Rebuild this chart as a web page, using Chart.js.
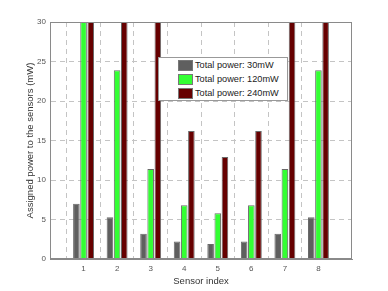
<!DOCTYPE html>
<html lang="en">
<head>
<meta charset="UTF-8">
<title>Assigned power per sensor</title>
<script src="https://cdn.jsdelivr.net/npm/chart.js"></script>
<style>
  html, body { margin: 0; padding: 0; background: #fff; }
  #wrap { position: relative; width: 388px; height: 291px; }
  #legend {
    position: absolute; left: 158px; top: 57px; width: 130px; height: 44px;
    background: #fff; border: 1px solid #999; box-sizing: border-box;
    font-family: "Liberation Sans", Arial, sans-serif; font-size: 9.2px; color: #222;
    padding: 0 0 0 19px;
  }
  #legend .row { display: flex; align-items: center; height: 14px; }
  #legend .sw { width: 15px; height: 11px; border: 1px solid #777; box-sizing: border-box; margin-right: 2px; }
</style>
</head>
<body>
<div id="wrap">
  <canvas id="powerChart" width="388" height="291"></canvas>
  <div id="legend"></div>
</div>

<script>
// x axis runs from 0 to 9, only 1..8 carry bars
const sensors = ['0', '1', '2', '3', '4', '5', '6', '7', '8', '9'];
const seriesNames = ['Total power: 30mW', 'Total power: 120mW', 'Total power: 240mW'];
const power30 = [null, 7.0, 5.3, 3.2, 2.2, 1.9, 2.2, 3.2, 5.3, null];
const power120 = [null, 30, 23.9, 11.4, 6.8, 5.8, 6.8, 11.4, 23.9, null];
const power240 = [null, 30, 30, 30, 16.2, 12.9, 16.2, 30, 30, null];
const yTicks = [0, 5, 10, 15, 20, 25, 30];

const colors = ['#5f5f5f', '#33ff33', '#660000'];

const fontFam = '"Liberation Sans", Arial, sans-serif';

const ctx = document.getElementById('powerChart').getContext('2d');
new Chart(ctx, {
    type: 'bar',
    data: {
        labels: sensors,
        datasets: [power30, power120, power240].map((d, i) => ({
            label: seriesNames[i],
            data: d,
            backgroundColor: colors[i],
            borderColor: '#6a6a6a',
            borderWidth: 1,
            borderSkipped: 'bottom',
            categoryPercentage: 0.64,
            barPercentage: 0.92
        }))
    },
    options: {
        responsive: false,
        animation: false,
        layout: { padding: { left: 0, right: 36, top: 22, bottom: 0 } },
        plugins: { legend: { display: false }, tooltip: { enabled: false } },
        scales: {
            x: {
                offset: false,
                grid: {
                    color: (c) => (c.index === 0 || c.index === 9) ? 'rgba(0,0,0,0)' : '#c4c4c4',
                    tickLength: 0
                },
                border: { display: true, color: '#8a8a8a', dash: [5, 4] },
                ticks: {
                    color: '#555',
                    font: { family: fontFam, size: 8 },
                    padding: 5,
                    maxRotation: 0,
                    autoSkip: false,
                    callback: function (v, i) { return (i === 0 || i === 9) ? '' : sensors[i]; }
                },
                title: {
                    display: true, text: 'Sensor index', color: '#333',
                    font: { family: fontFam, size: 9.5 }, padding: { top: 6 }
                },
                afterFit: (s) => { s.height = 32; }
            },
            y: {
                min: 0, max: 30,
                afterBuildTicks: (s) => { s.ticks = yTicks.map(v => ({ value: v })); },
                grid: {
                    color: (c) => (c.tick.value === 0 || c.tick.value === 30) ? 'rgba(0,0,0,0)' : '#c4c4c4',
                    tickLength: 0
                },
                border: { display: true, color: '#8a8a8a', dash: [5, 4] },
                ticks: { color: '#555', font: { family: fontFam, size: 8 }, padding: 4 },
                title: {
                    display: true, text: 'Assigned power to the sensors (mW)', color: '#333',
                    font: { family: fontFam, size: 9.5 }, padding: { top: 25 }
                },
                afterFit: (s) => { s.width = 50; }
            }
        }
    },
    plugins: [{
        id: 'frame',
        afterDraw(chart) {
            const a = chart.chartArea, c = chart.ctx;
            c.save();
            c.setLineDash([]);
            c.strokeStyle = '#8a8a8a';
            c.lineWidth = 1;
            c.strokeRect(a.left + 0.5, a.top + 0.5, a.right - a.left - 1, a.bottom - a.top - 1);
            c.restore();
        }
    }]
});

const legend = document.getElementById('legend');
seriesNames.forEach((n, i) => {
    const row = document.createElement('div');
    row.className = 'row';
    row.innerHTML = '<span class="sw" style="background:' + colors[i] + '"></span><span>' + n + '</span>';
    legend.appendChild(row);
});
</script>
</body>
</html>
